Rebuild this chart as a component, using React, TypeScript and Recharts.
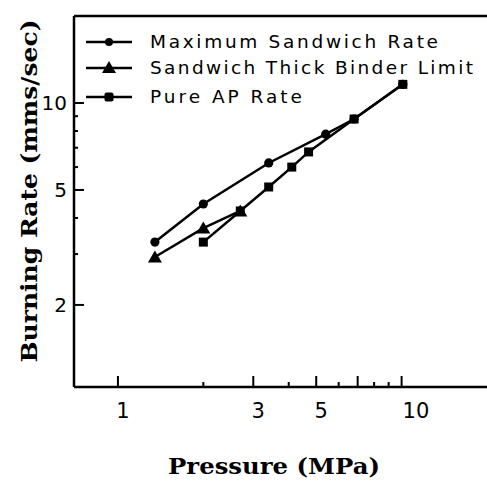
import React from 'react';
import { Line, LineChart, ReferenceLine, XAxis, YAxis } from 'recharts';

// values
const maxSandwichPressure = [1.35, 2.0, 3.4, 5.4, 6.8, 10.1];
const maxSandwichRate = [3.3, 4.47, 6.2, 7.8, 8.8, 11.6];
const thickBinderPressure = [1.35, 2.0, 2.7];
const thickBinderRate = [2.93, 3.69, 4.23];
const pureApPressure = [2.0, 2.7, 3.4, 4.1, 4.7, 6.8, 10.1];
const pureApRate = [3.3, 4.23, 5.12, 6.0, 6.77, 8.8, 11.6];

const xTicks = [1, 2, 3, 4, 5, 6, 7, 8, 9, 10];
const xTickLabels = [1, 3, 5, 10];
const xMajorTicks = [1, 3, 5, 7, 10];
const yTicks = [2, 3, 4, 5, 6, 7, 8, 9, 10];
const yTickLabels = [2, 5, 10];

const seriesNames = ['Maximum Sandwich Rate', 'Sandwich Thick Binder Limit', 'Pure AP Rate'];

const zip = (xs: number[], ys: number[]) => xs.map((x, i) => ({ x, y: ys[i] }));

const maxData = zip(maxSandwichPressure, maxSandwichRate);
const thickData = zip(thickBinderPressure, thickBinderRate);
const pureData = zip(pureApPressure, pureApRate);

const INK = '#000';
const sans = '"DejaVu Sans", sans-serif';
const serif = '"DejaVu Serif", serif';

const CircleDot = (props: any) => (
  <circle key={`c-${props.index}`} cx={props.cx} cy={props.cy} r={4.6} fill={INK} />
);

const TriangleDot = (props: any) => {
  const { cx, cy } = props;
  return (
    <path
      key={`t-${props.index}`}
      d={`M${cx},${cy - 6.5} L${cx + 7},${cy + 5.5} L${cx - 7},${cy + 5.5} Z`}
      fill={INK}
    />
  );
};

const SquareDot = (props: any) => (
  <rect key={`s-${props.index}`} x={props.cx - 4.5} y={props.cy - 4.5} width={9} height={9} fill={INK} />
);

const XTick = ({ x, y, payload }: any) => {
  const v = payload.value;
  const len = xMajorTicks.includes(v) ? 11 : 5;
  return (
    <g>
      <line x1={x} x2={x} y1={y} y2={y - len} stroke={INK} strokeWidth={2} />
      {xTickLabels.includes(v) && (
        <text
          x={v >= 10 ? x + 1 : x + 5}
          y={y + 31}
          textAnchor={v >= 10 ? 'start' : 'middle'}
          fontFamily={sans}
          fontSize={21}
          fill={INK}
        >
          {v}
        </text>
      )}
    </g>
  );
};

const YTick = ({ x, y, payload }: any) => {
  const v = payload.value;
  const labelled = yTickLabels.includes(v);
  return (
    <g>
      <line x1={x} x2={x + (labelled ? 10 : 4)} y1={y} y2={y} stroke={INK} strokeWidth={2} />
      {labelled && (
        <text x={x - 7} y={y + 7} textAnchor="end" fontFamily={sans} fontSize={20} fill={INK}>
          {v}
        </text>
      )}
    </g>
  );
};

const legendRows = [
  { name: seriesNames[0], y: 42, width: 288, marker: 'circle' },
  { name: seriesNames[1], y: 68, width: 323, marker: 'triangle' },
  { name: seriesNames[2], y: 97, width: 152, marker: 'square' },
];

function Overlay() {
  return (
    <svg
      width={487}
      height={481}
      style={{ position: 'absolute', left: 0, top: 0, pointerEvents: 'none' }}
    >
      {legendRows.map((row) => (
        <g key={row.name}>
          <line x1={86} x2={132} y1={row.y} y2={row.y} stroke={INK} strokeWidth={2.5} />
          {row.marker === 'circle' && <circle cx={109} cy={row.y} r={4} fill={INK} />}
          {row.marker === 'triangle' && (
            <path d={`M109,${row.y - 7} L116,${row.y + 5} L102,${row.y + 5} Z`} fill={INK} />
          )}
          {row.marker === 'square' && (
            <rect x={104.5} y={row.y - 4.5} width={9} height={9} rx={2} fill={INK} />
          )}
          <text
            x={150}
            y={row.y + 6}
            fontFamily={sans}
            fontSize={18.5}
            fill={INK}
            textLength={row.width}
            lengthAdjust="spacing"
          >
            {row.name}
          </text>
        </g>
      ))}
      <text
        x={37}
        y={191}
        transform="rotate(-90, 37, 191)"
        textAnchor="middle"
        fontFamily={serif}
        fontWeight="bold"
        fontSize={22}
        fill={INK}
        textLength={343}
        lengthAdjust="spacingAndGlyphs"
      >
        Burning Rate (mms/sec)
      </text>
      <text
        x={274}
        y={474}
        textAnchor="middle"
        fontFamily={serif}
        fontWeight="bold"
        fontSize={22}
        fill={INK}
        textLength={212}
        lengthAdjust="spacingAndGlyphs"
      >
        Pressure (MPa)
      </text>
    </svg>
  );
}

export default function App() {
  return (
    <div style={{ position: 'absolute', left: 0, top: 0, width: 487, height: 481, background: '#fff' }}>
      <LineChart width={487} height={481} margin={{ top: 16, right: 0, bottom: 93, left: 73 }}>
        <XAxis
          type="number"
          dataKey="x"
          scale="log"
          domain={[0.7, 20]}
          allowDataOverflow
          ticks={xTicks}
          interval={0}
          tick={XTick}
          tickLine={false}
          tickSize={0}
          tickMargin={0}
          height={1}
          axisLine={{ stroke: INK, strokeWidth: 2.5 }}
        />
        <YAxis
          type="number"
          dataKey="y"
          scale="log"
          domain={[1.04, 20]}
          allowDataOverflow
          ticks={yTicks}
          interval={0}
          tick={YTick}
          tickLine={false}
          tickSize={0}
          tickMargin={0}
          width={1}
          axisLine={{ stroke: INK, strokeWidth: 2.5 }}
        />
        <ReferenceLine y={20} stroke={INK} strokeWidth={2.5} />
        <Line
          data={maxData}
          dataKey="y"
          name={seriesNames[0]}
          stroke={INK}
          strokeWidth={2.5}
          dot={CircleDot}
          activeDot={false}
          isAnimationActive={false}
        />
        <Line
          data={thickData}
          dataKey="y"
          name={seriesNames[1]}
          stroke={INK}
          strokeWidth={2.5}
          dot={TriangleDot}
          activeDot={false}
          isAnimationActive={false}
        />
        <Line
          data={pureData}
          dataKey="y"
          name={seriesNames[2]}
          stroke={INK}
          strokeWidth={2.5}
          dot={SquareDot}
          activeDot={false}
          isAnimationActive={false}
        />
      </LineChart>
      <Overlay />
    </div>
  );
}
